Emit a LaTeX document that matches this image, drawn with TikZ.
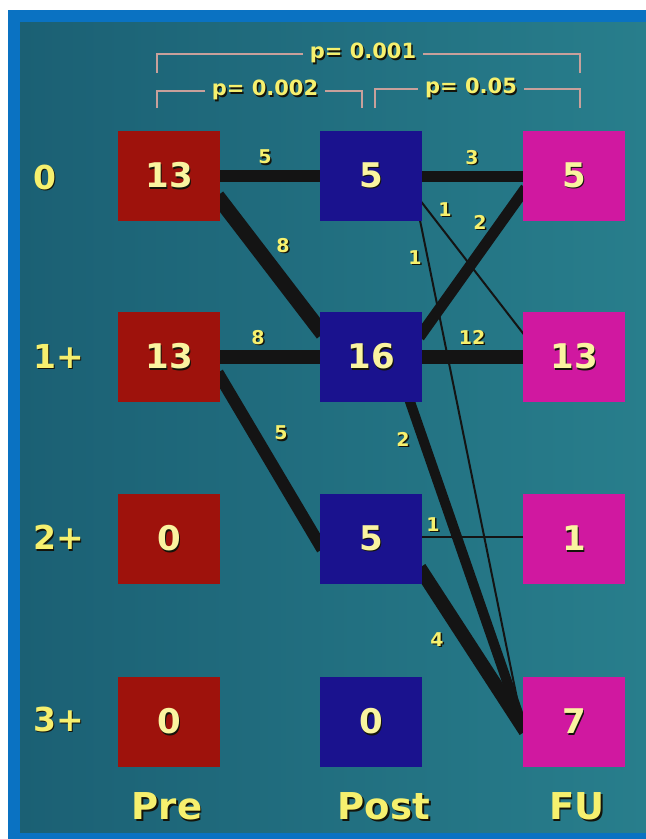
\documentclass[tikz,border=0pt]{standalone}
\usepackage{fontspec}
\setmainfont{DejaVu Sans}
\usetikzlibrary{calc}
\definecolor{frameblue}{RGB}{10,114,194}
\definecolor{tealL}{RGB}{27,96,116}
\definecolor{tealR}{RGB}{40,126,140}
\definecolor{preRed}{RGB}{158,18,12}
\definecolor{postBlue}{RGB}{26,18,142}
\definecolor{fuMag}{RGB}{208,24,160}
\definecolor{txtYel}{RGB}{246,240,110}
\definecolor{numYel}{RGB}{250,244,160}
\definecolor{brk}{RGB}{200,160,155}
\definecolor{shd}{RGB}{20,20,10}
\newcommand\shtxt[1]{\rlap{\hspace{1.6pt}\raisebox{-1.6pt}{\textcolor{shd}{#1}}}#1}
\pgfdeclarelayer{bg}
\pgfdeclarelayer{edges}
\pgfsetlayers{bg,edges,main}
\tikzset{
  box/.style={minimum width=102pt, minimum height=90pt, inner sep=0pt,
    font=\bfseries\fontsize{34}{34}\selectfont, text=numYel},
  prebox/.style={box, fill=preRed},
  postbox/.style={box, fill=postBlue},
  fubox/.style={box, fill=fuMag},
  flow/.style={draw=black!92, shorten <=-5pt, shorten >=-5pt},
  elbl/.style={font=\bfseries\fontsize{19}{19}\selectfont, text=txtYel, inner sep=0pt},
  plbl/.style={font=\bfseries\fontsize{21}{21}\selectfont, text=txtYel, inner sep=7pt},
  rowlbl/.style={font=\bfseries\fontsize{33}{33}\selectfont, text=txtYel, inner sep=0pt, anchor=west},
  collbl/.style={font=\bfseries\fontsize{37}{37}\selectfont, text=txtYel, inner sep=0pt},
  bracket/.style={draw=brk, line width=2.5pt}
}
\begin{document}
\begin{tikzpicture}[x=1pt,y=-1pt]
\begin{pgfonlayer}{bg}
\fill[white] (0,0) rectangle (646,839);
\fill[frameblue] (8,10) rectangle (646,839);
\shade[left color=tealL, right color=tealR] (20,22) rectangle (646,832);
\end{pgfonlayer}
\useasboundingbox (0,0) rectangle (646,839);

% boxes
\node[prebox] (pre0) at (169,176) {\shtxt{13}};
\node[prebox] (pre1) at (169,357) {\shtxt{13}};
\node[prebox] (pre2) at (169,539) {\shtxt{0}};
\node[prebox] (pre3) at (169,722) {\shtxt{0}};
\node[postbox] (post0) at (371,176) {\shtxt{5}};
\node[postbox] (post1) at (371,357) {\shtxt{16}};
\node[postbox] (post2) at (371,539) {\shtxt{5}};
\node[postbox] (post3) at (371,722) {\shtxt{0}};
\node[fubox] (fu0) at (574,176) {\shtxt{5}};
\node[fubox] (fu1) at (574,357) {\shtxt{13}};
\node[fubox] (fu2) at (574,539) {\shtxt{1}};
\node[fubox] (fu3) at (574,722) {\shtxt{7}};

% connectors
\begin{pgfonlayer}{edges}
\draw[flow, line width=12pt] (pre0.east) -- (post0.west);
\draw[flow, line width=11pt] (post0.east) -- (fu0.west);
\draw[flow, line width=15pt] ([yshift=-24pt]pre0.east) -- ([yshift=27pt]post1.west);
\draw[flow, line width=14pt] (pre1.east) -- (post1.west);
\draw[flow, line width=12pt] ([yshift=-20pt]pre1.east) -- ([yshift=-6pt]post2.west);
\draw[flow, line width=2pt] ([yshift=-27pt]post0.east) -- ([yshift=24pt]fu1.west);
\draw[flow, line width=2pt] ([xshift=-2pt]post0.south east) -- ([yshift=-5pt]fu3.west);
\draw[flow, line width=11pt] ([yshift=24pt]post1.east) -- ([yshift=-16pt]fu0.west);
\draw[flow, line width=14pt] (post1.east) -- (fu1.west);
\draw[flow, line width=10pt] ([xshift=-12pt]post1.south east) -- ([yshift=-5pt]fu3.west);
\draw[flow, line width=2pt] ([yshift=2pt]post2.east) -- ([yshift=2pt]fu2.west);
\draw[flow, line width=14pt] ([yshift=-33pt]post2.east) -- ([yshift=-5pt]fu3.west);
\end{pgfonlayer}

% connector labels
\node[elbl] (l1) at (265,158) {\shtxt{5}};
\node[elbl] (l2) at (472,158) {\shtxt{3}};
\node[elbl] (l3) at (283,246) {\shtxt{8}};
\node[elbl] (l4) at (258,338) {\shtxt{8}};
\node[elbl] (l5) at (281,434) {\shtxt{5}};
\node[elbl] (l6) at (445,210) {\shtxt{1}};
\node[elbl] (l7) at (480,223) {\shtxt{2}};
\node[elbl] (l8) at (415,258) {\shtxt{1}};
\node[elbl] (l9) at (472,338) {\shtxt{12}};
\node[elbl] (l10) at (403,440) {\shtxt{2}};
\node[elbl] (l11) at (433,525) {\shtxt{1}};
\node[elbl] (l12) at (437,640) {\shtxt{4}};

% row labels
\node[rowlbl] (r0) at (33,178) {\shtxt{0}};
\node[rowlbl] (r1) at (33,357) {\shtxt{1+}};
\node[rowlbl] (r2) at (33,538) {\shtxt{2+}};
\node[rowlbl] (r3) at (33,720) {\shtxt{3+}};

% column labels
\node[collbl] (cpre) at (167,807) {\shtxt{Pre}};
\node[collbl] (cpost) at (384,807) {\shtxt{Post}};
\node[collbl] (cfu) at (577,807) {\shtxt{FU}};

% p-value brackets
\node[plbl] (p1) at (363,54) {\shtxt{p= 0.001}};
\node[plbl] (p2) at (265,91) {\shtxt{p= 0.002}};
\node[plbl] (p3) at (471,89) {\shtxt{p= 0.05}};
\coordinate (b1l) at (157,73);
\coordinate (b1r) at (580,73);
\coordinate (b2l) at (157,108);
\coordinate (b2r) at (362,108);
\coordinate (b3l) at (375,108);
\coordinate (b3r) at (580,108);
\draw[bracket] (b1l) |- (p1.west);
\draw[bracket] (b1r) |- (p1.east);
\draw[bracket] (b2l) |- (p2.west);
\draw[bracket] (b2r) |- (p2.east);
\draw[bracket] (b3l) |- (p3.west);
\draw[bracket] (b3r) |- (p3.east);
\end{tikzpicture}
\end{document}
